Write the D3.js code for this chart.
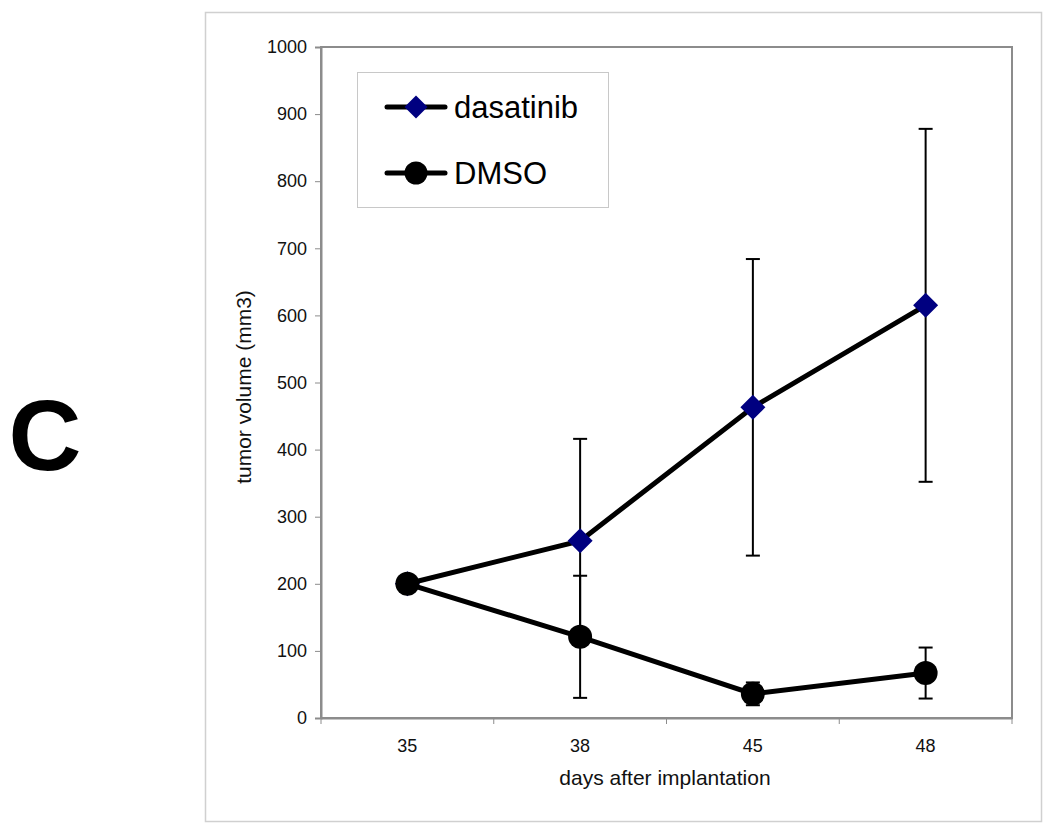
<!DOCTYPE html>
<html><head><meta charset="utf-8">
<script src="https://cdn.jsdelivr.net/npm/d3@7"></script>
<style>body{margin:0;background:#fff;} text{font-family:Arial,"Liberation Sans",sans-serif;}</style>
</head><body>
<svg id="c" width="1050" height="831"></svg>
<script>
const days = ["35","38","45","48"];
const dasatinib = [200, 264, 463, 615];
const dasatinibErr = [0, 152, 221, 263];
const dmso = [200, 121, 36, 67];
const dmsoErr = [0, 91, 17, 38];
const yTicks = [0,100,200,300,400,500,600,700,800,900,1000];

const svg = d3.select("#c");
const L = 321, R = 1012, T = 47, B = 718;
const x = d3.scaleBand().domain(days).range([L, R]);
const y = d3.scaleLinear().domain([0, 1000]).range([B, T]);
const cx = d => x(d) + x.bandwidth()/2;
const FONT = "Arial, Liberation Sans, sans-serif";

// outer frame
svg.append("rect").attr("x",205.5).attr("y",12.5).attr("width",836).attr("height",809)
  .attr("fill","none").attr("stroke","#d0d0d0").attr("stroke-width",1.5);

// panel letter
svg.append("text").attr("x",45).attr("y",470).attr("text-anchor","middle")
  .attr("font-size",101).attr("font-weight","bold").attr("fill","#000").text("C");

// plot box
svg.append("rect").attr("x",L).attr("y",T).attr("width",R-L).attr("height",B-T)
  .attr("fill","none").attr("stroke","#8c8c8c").attr("stroke-width",2);

// y axis
const ya = svg.append("g").attr("transform",`translate(${L},0)`)
  .call(d3.axisLeft(y).tickValues(yTicks).tickFormat(d3.format("d")).tickSize(6).tickPadding(8));
ya.select(".domain").attr("stroke","#8c8c8c").attr("stroke-width",2);
ya.selectAll(".tick line").attr("stroke","#8c8c8c");
ya.selectAll(".tick text").attr("font-size",18).attr("fill","#111").attr("font-family",FONT);

// x axis: ticks at band boundaries
const xa = svg.append("g").attr("transform",`translate(0,${B})`)
  .call(d3.axisBottom(x).tickSize(0).tickPadding(21));
xa.select(".domain").attr("stroke","#8c8c8c").attr("stroke-width",2);
xa.selectAll(".tick text").attr("font-size",18).attr("fill","#111").attr("font-family",FONT);
const bounds = days.map(d => x(d)).concat([R]);
svg.append("g").selectAll("line").data(bounds).join("line")
  .attr("x1",d=>d).attr("x2",d=>d).attr("y1",B).attr("y2",B+6)
  .attr("stroke","#8c8c8c").attr("stroke-width",1);

// axis titles
svg.append("text").attr("x",665).attr("y",785).attr("text-anchor","middle")
  .attr("font-size",21).attr("fill","#111").text("days after implantation");
svg.append("text").attr("transform","translate(251,387) rotate(-90)").attr("text-anchor","middle")
  .attr("font-size",21).attr("fill","#111").text("tumor volume (mm3)");

// error bars
function errBars(vals, errs){
  const g = svg.append("g");
  days.forEach((d,i)=>{
    if(!errs[i]) return;
    const xx = cx(d), y1 = y(vals[i]+errs[i]), y0 = y(vals[i]-errs[i]);
    g.append("line").attr("x1",xx).attr("x2",xx).attr("y1",y1).attr("y2",y0).attr("stroke","#000").attr("stroke-width",2);
    [y1,y0].forEach(yy=>g.append("line").attr("x1",xx-7).attr("x2",xx+7).attr("y1",yy).attr("y2",yy).attr("stroke","#000").attr("stroke-width",2));
  });
}
errBars(dasatinib, dasatinibErr);
errBars(dmso, dmsoErr);

const line = d3.line().x((v,i)=>cx(days[i])).y(v=>y(v));
svg.append("path").datum(dasatinib).attr("d",line).attr("fill","none").attr("stroke","#000").attr("stroke-width",5);
svg.append("path").datum(dmso).attr("d",line).attr("fill","none").attr("stroke","#000").attr("stroke-width",5);

const diamond = s => `M0,${-s}L${s},0L0,${s}L${-s},0Z`;
svg.append("g").selectAll("path").data(dasatinib).join("path")
  .attr("transform",(v,i)=>`translate(${cx(days[i])},${y(v)})`).attr("d",diamond(12.5)).attr("fill","#000080");
svg.append("g").selectAll("circle").data(dmso).join("circle")
  .attr("cx",(v,i)=>cx(days[i])).attr("cy",v=>y(v)).attr("r",12).attr("fill","#000");

// legend
const lg = svg.append("g");
lg.append("rect").attr("x",357.5).attr("y",72.5).attr("width",251).attr("height",135)
  .attr("fill","#fff").attr("stroke","#c8c8c8").attr("stroke-width",1);
[["dasatinib",107,"d"],["DMSO",173,"c"]].forEach(([name,yy,m])=>{
  lg.append("line").attr("x1",387).attr("x2",445).attr("y1",yy).attr("y2",yy).attr("stroke","#000").attr("stroke-width",5).attr("stroke-linecap","round");
  if(m==="d") lg.append("path").attr("transform",`translate(416,${yy})`).attr("d",diamond(11.5)).attr("fill","#000080");
  else lg.append("circle").attr("cx",416).attr("cy",yy).attr("r",11.5).attr("fill","#000");
  lg.append("text").attr("x",454).attr("y",yy+11).attr("font-size",31).attr("fill","#000").text(name);
});
</script>
</body></html>
